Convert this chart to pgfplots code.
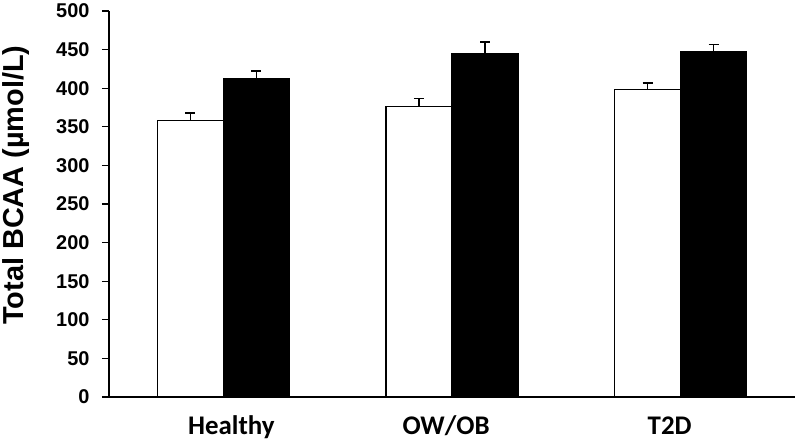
\documentclass[border=0pt]{standalone}
\usepackage{pgfplots}
\pgfplotsset{compat=1.18}
\usepackage{fontspec}
\setmainfont{Liberation Sans}
\newfontfamily\carlito{Carlito}
\begin{document}
\begin{tikzpicture}
\useasboundingbox (-109bp,-45bp) rectangle (688bp,397bp);
\begin{axis}[
  scale only axis,
  width=686bp, height=386bp,
  xmin=-0.5, xmax=2.5,
  ymin=0, ymax=500,
  axis x line*=bottom,
  axis y line*=left,
  axis line style={line width=1.3bp, -},
  ybar=0pt,
  bar width=66bp,
  xtick={0.035,0.974,1.952},
  xticklabels={Healthy, OW/OB, T2D},
  xtick style={draw=none},
  xticklabel style={font=\carlito\bfseries\fontsize{27}{27}\selectfont, anchor=base, yshift=-30bp},
  ytick={0,50,...,500},
  ytick style={line width=1.3bp, black},
  tick align=outside,
  major tick length=7bp,
  /pgf/number format/assume math mode=true,
  yticklabel style={font=\bfseries\fontsize{20}{20}\selectfont, xshift=-9bp},
  ylabel={\bfseries Total BCAA (µmol/L)},
  ylabel style={font=\bfseries\fontsize{29}{29}\selectfont, at={(axis description cs:-0.135,0.549)}, anchor=center},
  error bars/error bar style={line width=1.5bp, black},
  error bars/error mark options={line width=1.5bp, black, mark size=5bp, rotate=90},
]
\addplot[draw=black, fill=white, line width=1.3bp,
  error bars/.cd, y dir=plus, y explicit]
  coordinates {(0,358) +- (0,10) (1,376.5) +- (0,10) (2,398.5) +- (0,8)};
\addplot[draw=black, fill=black, line width=1.3bp,
  error bars/.cd, y dir=plus, y explicit]
  coordinates {(0,413) +- (0,9.5) (1,445) +- (0,15) (2,447) +- (0,9.5)};
\end{axis}
\end{tikzpicture}
\end{document}
